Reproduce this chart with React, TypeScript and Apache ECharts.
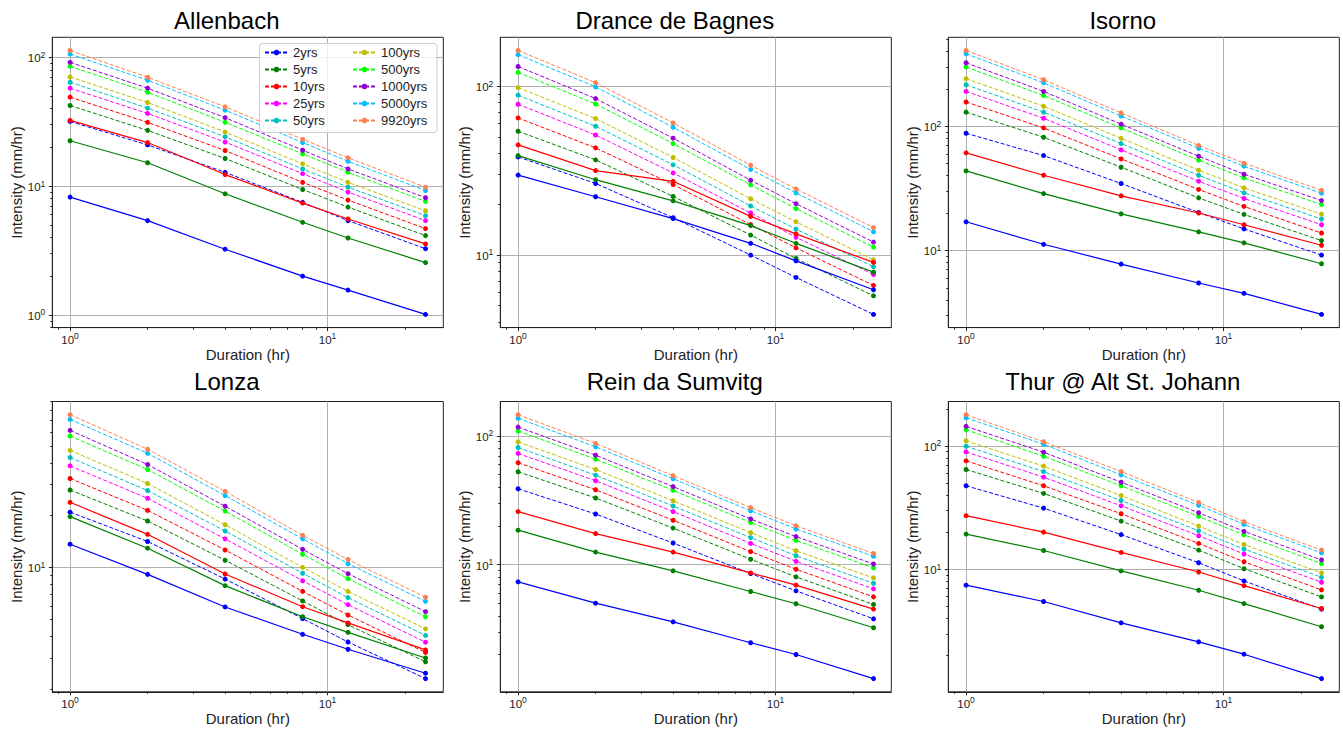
import { useEffect, useRef } from 'react';
import * as echarts from 'echarts';

// Storm durations (hours) shared by every station
const durations = [1, 2, 4, 8, 12, 24];

// Return periods drawn as dashed lines, with their colours
const periodLabels = ['2yrs', '5yrs', '10yrs', '25yrs', '50yrs', '100yrs', '500yrs', '1000yrs', '5000yrs', '9920yrs'];
const periodColors = ['#0000ff', '#008000', '#ff0000', '#ff00ff', '#00bfbf', '#bfbf00', '#00ff00', '#9400d3', '#00bfff', '#ff7f50'];

// Solid reference curves (blue, green, red)
const solidColors = ['#0000ff', '#008000', '#ff0000'];

const siteTitles = ['Allenbach', 'Drance de Bagnes', 'Isorno', 'Lonza', 'Rein da Sumvitg', 'Thur @ Alt St. Johann'];

// Intensity (mm/hr) per return period, one row per period, one column per duration
const allenbachReturn = [
  [31.8, 20.9, 12.8, 7.48, 5.40, 3.27],
  [42.3, 27.1, 16.4, 9.42, 6.88, 4.13],
  [49.1, 31.3, 18.9, 10.7, 7.80, 4.68],
  [57.6, 36.7, 22.0, 12.5, 8.99, 5.40],
  [64.1, 40.3, 24.2, 13.6, 9.82, 5.90],
  [70.5, 44.6, 26.3, 14.9, 10.7, 6.44],
  [85.2, 53.6, 31.3, 17.8, 12.8, 7.61],
  [91.5, 57.6, 34.0, 19.0, 13.6, 8.13],
  [106, 66.4, 38.9, 21.8, 15.6, 9.25],
  [113, 70.0, 41.3, 23.1, 16.6, 9.82],
];
const allenbachSolid = [
  [8.22, 5.40, 3.24, 2.00, 1.56, 1.01],
  [22.5, 15.2, 8.72, 5.24, 3.96, 2.55],
  [32.4, 21.8, 12.3, 7.39, 5.56, 3.56],
];

const dranceReturn = [
  [38.1, 26.5, 16.6, 9.96, 7.34, 4.43],
  [54.1, 36.6, 22.2, 13.1, 9.51, 5.71],
  [64.9, 43.1, 26.1, 15.1, 11.0, 6.58],
  [78.2, 51.4, 30.6, 17.7, 12.7, 7.64],
  [88.5, 57.9, 34.2, 19.5, 14.2, 8.49],
  [98.2, 64.3, 37.8, 21.5, 15.7, 9.34],
  [121, 78.5, 45.7, 26.0, 18.8, 11.1],
  [131, 84.5, 49.2, 27.7, 20.1, 11.9],
  [154, 99.1, 57.1, 32.1, 23.3, 13.7],
  [163, 105, 60.6, 34.0, 24.6, 14.5],
];
const dranceSolid = [
  [29.7, 22.1, 16.4, 11.7, 9.21, 6.20],
  [38.8, 27.9, 20.9, 14.9, 11.7, 7.89],
  [44.9, 31.6, 27.3, 16.9, 13.3, 9.01],
];

const isornoReturn = [
  [87.9, 58.1, 34.6, 20.2, 14.9, 9.17],
  [130, 81.6, 46.8, 26.5, 19.5, 12.0],
  [157, 97.0, 54.6, 31.0, 22.6, 13.8],
  [191, 116, 64.5, 36.1, 26.2, 16.1],
  [216, 130, 72.6, 40.3, 29.1, 17.9],
  [242, 145, 80.0, 44.3, 31.9, 19.6],
  [300, 177, 97.0, 53.3, 38.4, 23.4],
  [325, 191, 104, 57.4, 41.1, 25.2],
  [384, 224, 121, 66.5, 47.7, 28.9],
  [408, 237, 128, 70.0, 50.4, 30.5],
];
const isornoSolid = [
  [17.0, 11.2, 7.76, 5.46, 4.51, 3.05],
  [43.7, 28.7, 19.7, 14.1, 11.5, 7.81],
  [61.1, 40.3, 27.5, 20.0, 16.1, 11.0],
];

const lonzaReturn = [
  [20.8, 14.1, 8.57, 5.07, 3.72, 2.29],
  [27.9, 18.5, 11.0, 6.41, 4.68, 2.86],
  [32.5, 21.3, 12.6, 7.28, 5.32, 3.24],
  [38.4, 25.0, 14.6, 8.38, 6.10, 3.71],
  [42.9, 27.7, 16.2, 9.25, 6.70, 4.06],
  [47.2, 30.4, 17.6, 10.0, 7.28, 4.43],
  [57.1, 36.6, 21.1, 11.9, 8.61, 5.20],
  [61.5, 39.1, 22.5, 12.7, 9.20, 5.56],
  [71.1, 45.4, 25.9, 14.6, 10.5, 6.38],
  [75.7, 47.9, 27.4, 15.3, 11.1, 6.73],
];
const lonzaSolid = [
  [13.6, 9.12, 5.92, 4.12, 3.38, 2.46],
  [19.6, 12.9, 7.85, 5.20, 4.23, 3.01],
  [23.7, 15.5, 9.16, 5.94, 4.79, 3.35],
];

const reinReturn = [
  [38.8, 24.7, 14.7, 8.51, 6.25, 3.79],
  [52.6, 32.9, 19.2, 11.0, 8.02, 4.90],
  [61.8, 38.1, 22.1, 12.6, 9.20, 5.61],
  [73.0, 44.8, 25.8, 14.6, 10.6, 6.48],
  [81.2, 49.5, 28.5, 16.2, 11.7, 7.16],
  [89.8, 54.8, 31.3, 17.7, 12.8, 7.88],
  [109, 65.9, 37.7, 21.2, 15.4, 9.42],
  [117, 70.8, 40.3, 22.6, 16.5, 10.1],
  [137, 82.2, 46.4, 26.2, 18.9, 11.6],
  [146, 87.3, 49.0, 27.7, 20.0, 12.2],
];
const reinSolid = [
  [7.34, 5.01, 3.59, 2.47, 2.00, 1.30],
  [18.5, 12.5, 8.93, 6.18, 4.96, 3.23],
  [25.8, 17.4, 12.5, 8.61, 6.92, 4.51],
];

const thurReturn = [
  [47.5, 31.3, 19.1, 11.3, 8.05, 4.75],
  [64.4, 41.2, 24.6, 14.3, 10.1, 5.97],
  [75.7, 47.5, 28.2, 16.2, 11.5, 6.81],
  [89.4, 55.8, 32.7, 18.7, 13.3, 7.85],
  [99.4, 61.9, 36.1, 20.5, 14.6, 8.61],
  [110, 68.5, 39.6, 22.4, 15.9, 9.34],
  [135, 82.4, 47.5, 26.8, 19.0, 11.1],
  [144, 88.9, 50.8, 28.7, 20.3, 11.9],
  [169, 103, 58.2, 33.0, 23.1, 13.6],
  [179, 108, 61.9, 34.8, 24.3, 14.3],
];
const thurSolid = [
  [7.43, 5.48, 3.68, 2.58, 2.05, 1.30],
  [19.3, 14.2, 9.70, 6.76, 5.27, 3.42],
  [27.2, 20.0, 13.7, 9.51, 7.38, 4.81],
];

const siteReturn = [allenbachReturn, dranceReturn, isornoReturn, lonzaReturn, reinReturn, thurReturn];
const siteSolid = [allenbachSolid, dranceSolid, isornoSolid, lonzaSolid, reinSolid, thurSolid];

const FONT = "'Liberation Sans', Arial, Helvetica, sans-serif";
const INK = '#222222';

// Panel geometry (px)
const colLeft = [52.3, 500.3, 948.3];
const rowTop = [37.3, 401.5];
const plotW = 391;
const plotH = 290.3;

// Log-space extent with a 5% margin on each side
function logRange(values: number[]): [number, number] {
  const lo = Math.log10(Math.min(...values));
  const hi = Math.log10(Math.max(...values));
  const pad = (hi - lo) * 0.05;
  return [Math.pow(10, lo - pad), Math.pow(10, hi + pad)];
}

function majorTicks(min: number, max: number): number[] {
  const out: number[] = [];
  const e0 = Math.ceil(Math.log10(min) - 1e-9);
  const e1 = Math.floor(Math.log10(max) + 1e-9);
  for (let e = e0; e <= e1; e++) out.push(Math.pow(10, e));
  return out;
}

function minorTicks(min: number, max: number): number[] {
  const out: number[] = [];
  for (let e = Math.floor(Math.log10(min)) - 1; e <= Math.ceil(Math.log10(max)); e++) {
    for (let k = 2; k <= 9; k++) {
      const v = k * Math.pow(10, e);
      if (v >= min && v <= max) out.push(v);
    }
  }
  return out;
}

const powRich = {
  b: { fontSize: 11.5, lineHeight: 14, verticalAlign: 'bottom', fontFamily: FONT, color: INK },
  s: { fontSize: 8.5, lineHeight: 10, verticalAlign: 'top', fontFamily: FONT, color: INK },
};
const powFormatter = (v: number) => `{b|10}{s|${Math.round(Math.log10(v))}}`;

function buildOption() {
  const grid: any[] = [];
  const xAxis: any[] = [];
  const yAxis: any[] = [];
  const series: any[] = [];
  const graphic: any[] = [];

  const [xMin, xMax] = logRange(durations);

  siteTitles.forEach((title, i) => {
    const col = i % 3;
    const row = Math.floor(i / 3);
    const left = colLeft[col];
    const top = rowTop[row];
    grid.push({
      left, top, width: plotW, height: plotH,
      show: true, borderColor: INK, borderWidth: 1, backgroundColor: 'transparent',
    });

    const ret = siteReturn[i];
    const solid = siteSolid[i];
    const all = ([] as number[]).concat(...ret, ...solid);
    const [yMin, yMax] = logRange(all);

    const xMaj = majorTicks(xMin, xMax);
    const yMaj = majorTicks(yMin, yMax);

    xAxis.push({
      type: 'log', logBase: 10, gridIndex: i, min: xMin, max: xMax, position: 'bottom',
      name: 'Duration (hr)', nameLocation: 'middle', nameGap: 19,
      nameTextStyle: { fontSize: 15, fontFamily: FONT, color: INK },
      axisLine: { show: true, lineStyle: { color: INK, width: 1 } },
      axisTick: { show: true, customValues: xMaj, length: 3.5, lineStyle: { color: INK, width: 1 } },
      axisLabel: { customValues: xMaj, formatter: powFormatter, rich: powRich, margin: 4 },
      splitLine: { show: true, lineStyle: { color: '#b0b0b0', width: 1 } },
    });
    xAxis.push({
      type: 'log', logBase: 10, gridIndex: i, min: xMin, max: xMax, position: 'bottom',
      axisLine: { show: false },
      axisTick: { show: true, customValues: minorTicks(xMin, xMax), length: 2, lineStyle: { color: INK, width: 1 } },
      axisLabel: { show: false },
      splitLine: { show: false },
    });
    yAxis.push({
      type: 'log', logBase: 10, gridIndex: i, min: yMin, max: yMax, position: 'left',
      name: 'Intensity (mm/hr)', nameLocation: 'middle', nameGap: 28, nameRotate: 90,
      nameTextStyle: { fontSize: 15, fontFamily: FONT, color: INK },
      axisLine: { show: true, lineStyle: { color: INK, width: 1 } },
      axisTick: { show: true, customValues: yMaj, length: 3.5, lineStyle: { color: INK, width: 1 } },
      axisLabel: { customValues: yMaj, formatter: powFormatter, rich: powRich, margin: 7 },
      splitLine: { show: true, lineStyle: { color: '#b0b0b0', width: 1 } },
    });
    yAxis.push({
      type: 'log', logBase: 10, gridIndex: i, min: yMin, max: yMax, position: 'left',
      axisLine: { show: false },
      axisTick: { show: true, customValues: minorTicks(yMin, yMax), length: 2, lineStyle: { color: INK, width: 1 } },
      axisLabel: { show: false },
      splitLine: { show: false },
    });

    ret.forEach((vals, k) => {
      series.push({
        type: 'line', name: periodLabels[k], xAxisIndex: 2 * i, yAxisIndex: 2 * i,
        data: durations.map((d, j) => [d, vals[j]]),
        symbol: 'circle', symbolSize: 5, showAllSymbol: true, silent: true,
        lineStyle: { color: periodColors[k], width: 1, type: [4, 2] },
        itemStyle: { color: periodColors[k] },
        emphasis: { disabled: true },
        z: 2,
      });
    });
    solid.forEach((vals, k) => {
      series.push({
        type: 'line', name: `${title} solid ${k + 1}`, xAxisIndex: 2 * i, yAxisIndex: 2 * i,
        data: durations.map((d, j) => [d, vals[j]]),
        symbol: 'circle', symbolSize: 5, showAllSymbol: true, silent: true,
        lineStyle: { color: solidColors[k], width: 1.2, type: 'solid' },
        itemStyle: { color: solidColors[k] },
        emphasis: { disabled: true },
        z: 3,
      });
    });

    graphic.push({
      type: 'text', x: left + plotW / 2 - 21, y: row === 0 ? 20 : 381.5,
      style: { text: title, fontSize: 24, fontFamily: FONT, fill: '#000', align: 'center', verticalAlign: 'middle' },
    });
  });

  // Legend frame in the first panel
  graphic.push({
    type: 'rect', z: 10,
    shape: { x: 259.5, y: 43.5, width: 177.5, height: 89, r: 3 },
    style: { fill: 'rgba(255,255,255,0.8)', stroke: '#cccccc', lineWidth: 1 },
  });

  const legendBase = {
    orient: 'vertical', itemWidth: 23, itemHeight: 7, itemGap: 4, padding: 0,
    selectedMode: false, z: 20,
    textStyle: { fontSize: 13, fontFamily: FONT, color: INK },
  };

  return {
    animation: false,
    backgroundColor: '#ffffff',
    textStyle: { fontFamily: FONT },
    grid,
    xAxis,
    yAxis,
    series,
    graphic,
    legend: [
      { ...legendBase, data: periodLabels.slice(0, 5), left: 264, top: 46 },
      { ...legendBase, data: periodLabels.slice(5), left: 352, top: 46 },
    ],
  };
}

export default function App() {
  const ref = useRef<HTMLDivElement>(null);
  useEffect(() => {
    if (!ref.current) return;
    const chart = echarts.init(ref.current, undefined, { renderer: 'svg' });
    chart.setOption(buildOption() as any);
    return () => chart.dispose();
  }, []);
  return (
    <div
      ref={ref}
      style={{ position: 'absolute', left: 0, top: 0, width: 1343, height: 734, background: '#fff' }}
    />
  );
}
